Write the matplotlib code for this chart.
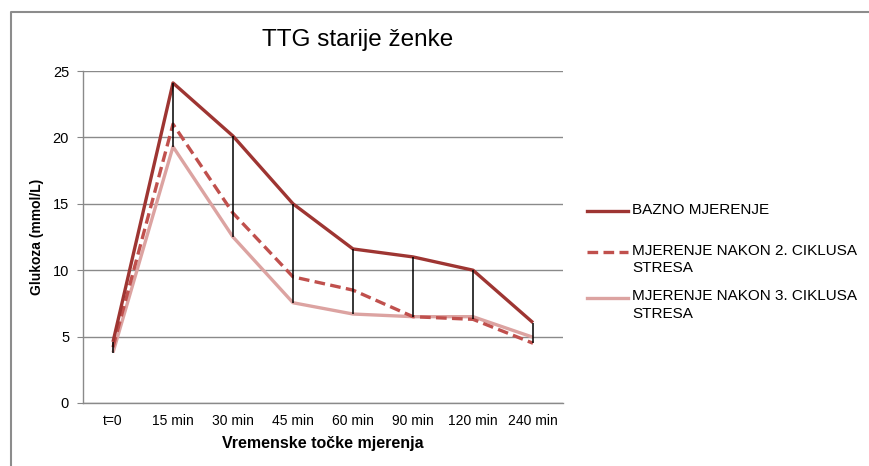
import matplotlib
matplotlib.use('Agg')
from matplotlib import pyplot as plt
from matplotlib.lines import Line2D
import numpy as np

plt.rcParams['font.family'] = ['Liberation Sans', 'DejaVu Sans']

vremena = ['t=0', '15 min', '30 min', '45 min', '60 min', '90 min', '120 min', '240 min']
bazno = [4.6, 24.1, 20.1, 15.0, 11.6, 11.0, 10.0, 6.05]
nakon_2 = [4.2, 21.0, 14.3, 9.5, 8.5, 6.5, 6.3, 4.5]
nakon_3 = [3.8, 19.3, 12.5, 7.55, 6.7, 6.5, 6.5, 4.95]
nazivi = ['BAZNO MJERENJE', 'MJERENJE NAKON 2. CIKLUSA\nSTRESA', 'MJERENJE NAKON 3. CIKLUSA\nSTRESA']

W, H = 869, 466
fig = plt.figure(figsize=(W / 100, H / 100), dpi=100)
ax = fig.add_axes([83 / W, 1 - 403 / H, 480 / W, 332 / H])

x = np.arange(len(vremena))
boje = ['#9E3532', '#C0504D', '#DCA3A1']
stilovi = ['-', (0, (3.2, 1.6)), '-']

serije = [bazno, nakon_2, nakon_3]
for i in [2, 1, 0]:
    ax.plot(x, serije[i], color=boje[i], lw=2.4, linestyle=stilovi[i], zorder=3 + (2 - i),
            solid_capstyle='butt', dash_capstyle='butt')

# high-low linije
sve = np.array(serije)
ax.vlines(x, sve.min(axis=0), sve.max(axis=0), color='black', lw=1.1, zorder=6)

ax.set_xlim(-0.5, len(vremena) - 0.5)
ax.set_ylim(0, 25)
ax.set_yticks([0, 5, 10, 15, 20, 25])
ax.set_xticks(x)
ax.set_xticklabels(vremena, fontsize=10)
ax.tick_params(axis='y', labelsize=10.5, length=4, color='#868686', direction='out', pad=6)
ax.tick_params(axis='x', length=0, pad=8)
ax.grid(axis='y', color='#8a8a8a', lw=1)
ax.set_axisbelow(True)
for s in ['top', 'right']:
    ax.spines[s].set_visible(False)
for s in ['left', 'bottom']:
    ax.spines[s].set_color('#8a8a8a')
    ax.spines[s].set_linewidth(1)

ax.set_xlabel('Vremenske točke mjerenja', fontsize=11.5, fontweight='bold', labelpad=6)
ax.set_ylabel('Glukoza (mmol/L)', fontsize=10, fontweight='bold', labelpad=6)
fig.text(358 / W, 1 - 40 / H, 'TTG starije ženke', fontsize=17.5, ha='center', va='center')

# legenda
leg_y = [211, 252, 298]
for i in range(3):
    yy = 1 - leg_y[i] / H
    fig.add_artist(Line2D([587 / W, 628 / W], [yy, yy], color=boje[i], lw=2.4,
                          linestyle=stilovi[i], transform=fig.transFigure))
    fig.text(632 / W, yy + 8.5 / H, nazivi[i], fontsize=11, ha='left', va='top',
             linespacing=1.35)

# okvir grafikona
fig.add_artist(Line2D([10.5 / W, 10.5 / W, 1.0], [0.0, 1 - 11.5 / H, 1 - 11.5 / H],
                      color='#8c8c8c', lw=1.5, transform=fig.transFigure))

fig.savefig('out.png', dpi=100)
